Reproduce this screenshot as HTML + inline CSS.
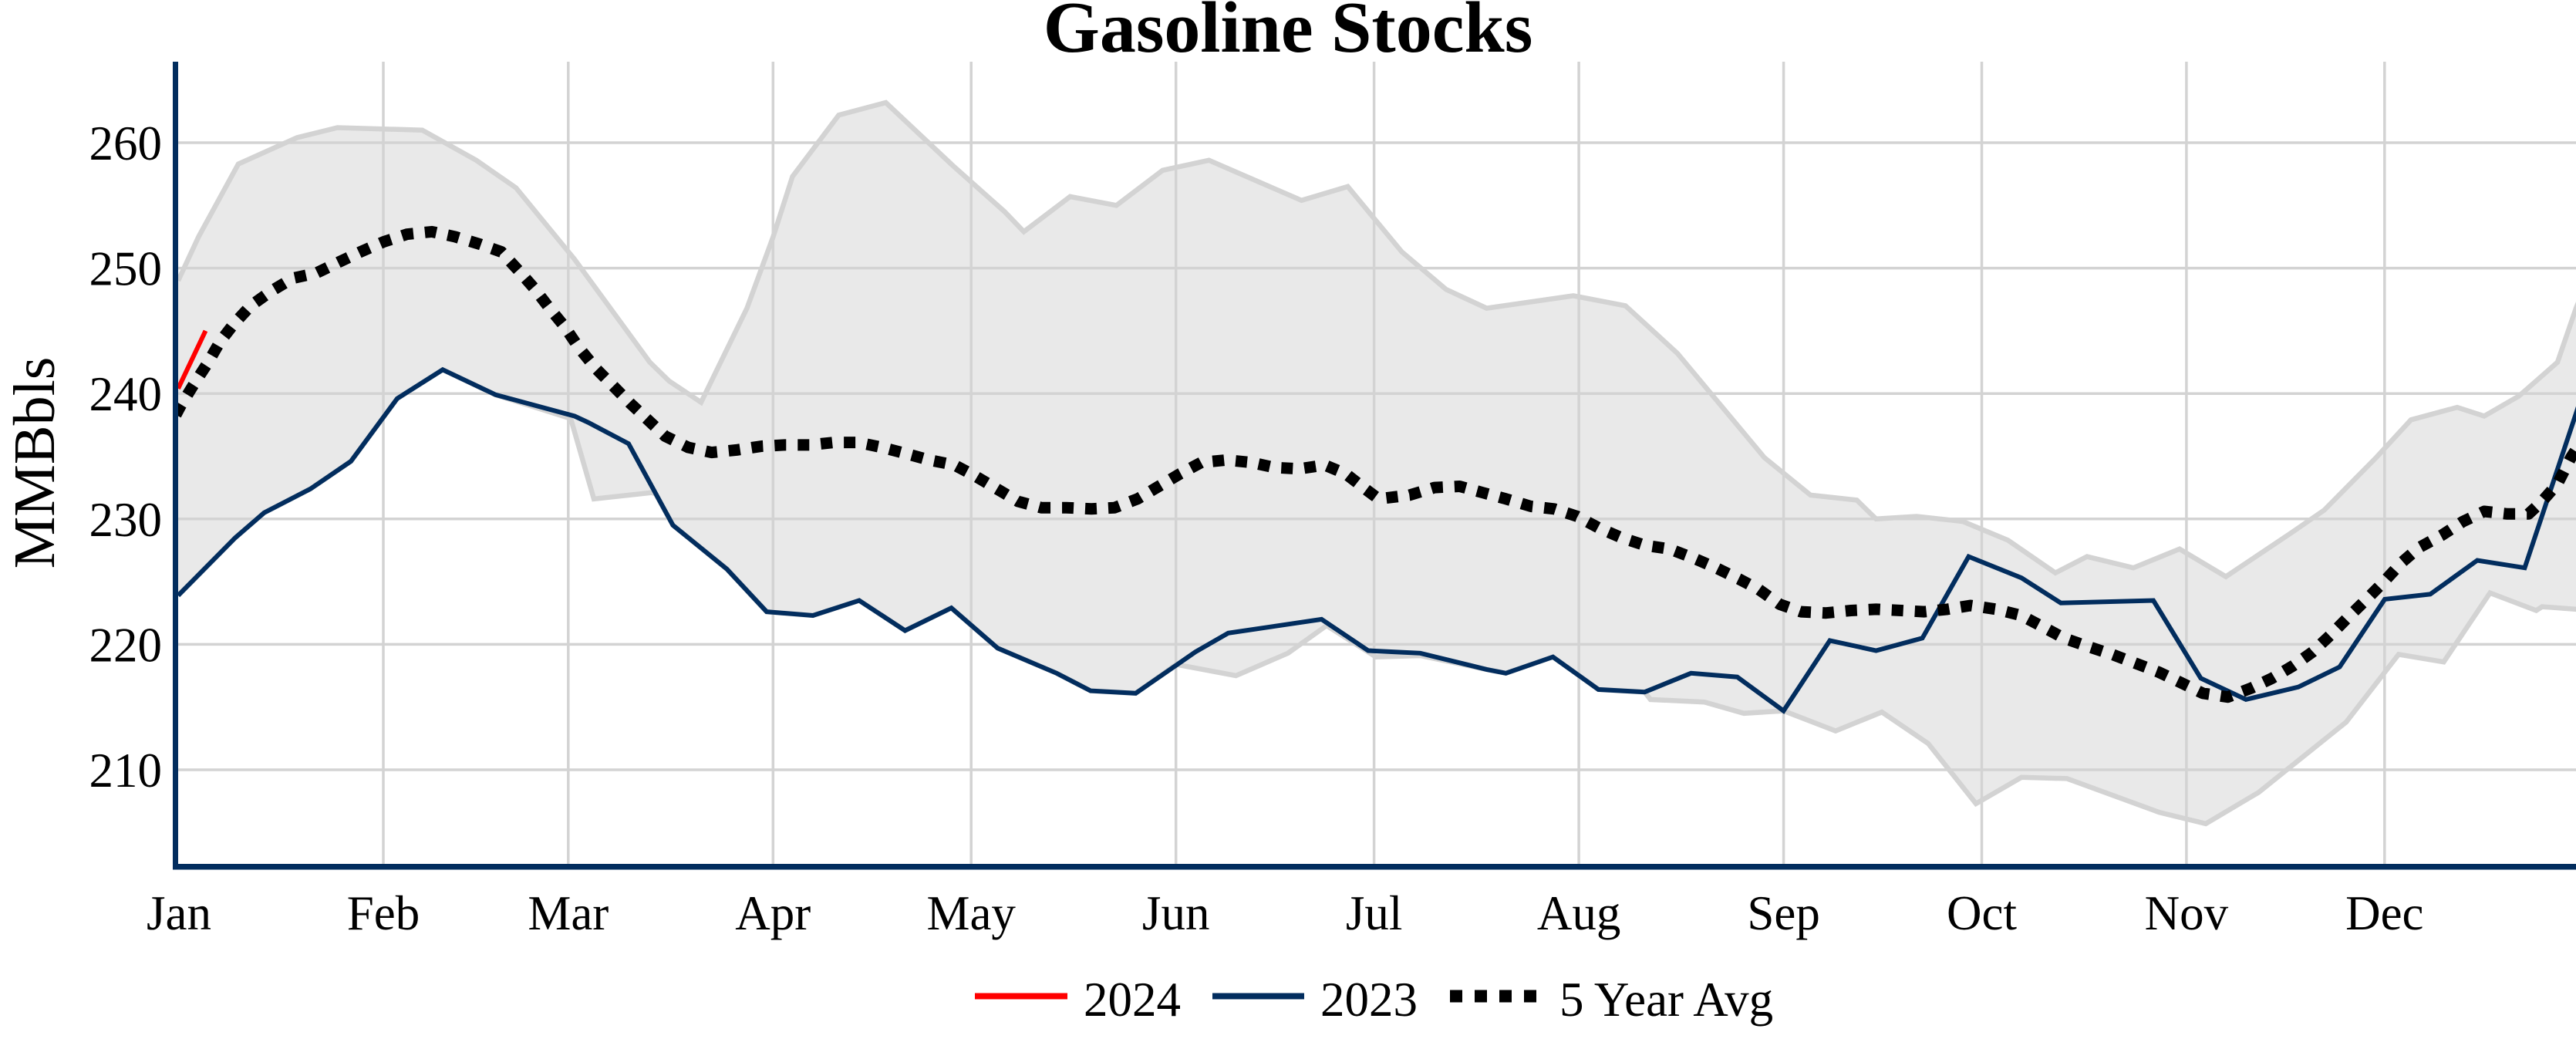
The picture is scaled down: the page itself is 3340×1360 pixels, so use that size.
<!DOCTYPE html>
<html>
<head>
<meta charset="utf-8">
<style>
html,body{margin:0;padding:0;background:#ffffff;}
svg{display:block;}
text{font-family:"Liberation Serif","Times New Roman",serif;fill:#000;}
</style>
</head>
<body>
<svg xmlns="http://www.w3.org/2000/svg" width="3340" height="1360" viewBox="0 0 3340 1360">
<rect x="0" y="0" width="3340" height="1360" fill="#ffffff"/>
<defs>
<clipPath id="plot"><rect x="229" y="80" width="3111" height="1042"/></clipPath>
</defs>

<!-- Title -->
<text x="1670" y="67" font-size="94" font-weight="bold" text-anchor="middle">Gasoline Stocks</text>

<!-- gridlines -->
<g stroke="#d3d3d3" stroke-width="3.5" fill="none">
<line x1="229" y1="185" x2="3340" y2="185"/>
<line x1="229" y1="347.6" x2="3340" y2="347.6"/>
<line x1="229" y1="510.2" x2="3340" y2="510.2"/>
<line x1="229" y1="672.8" x2="3340" y2="672.8"/>
<line x1="229" y1="835.4" x2="3340" y2="835.4"/>
<line x1="229" y1="998" x2="3340" y2="998"/>
<line x1="497" y1="80" x2="497" y2="1122"/>
<line x1="736.8" y1="80" x2="736.8" y2="1122"/>
<line x1="1002.3" y1="80" x2="1002.3" y2="1122"/>
<line x1="1259.2" y1="80" x2="1259.2" y2="1122"/>
<line x1="1524.7" y1="80" x2="1524.7" y2="1122"/>
<line x1="1781.6" y1="80" x2="1781.6" y2="1122"/>
<line x1="2047.1" y1="80" x2="2047.1" y2="1122"/>
<line x1="2312.6" y1="80" x2="2312.6" y2="1122"/>
<line x1="2569.5" y1="80" x2="2569.5" y2="1122"/>
<line x1="2834.9" y1="80" x2="2834.9" y2="1122"/>
<line x1="3091.8" y1="80" x2="3091.8" y2="1122"/>
</g>

<g clip-path="url(#plot)">
<!-- band fill -->
<polygon fill="rgba(211,211,211,0.5)" stroke="none" points="
231,363.9 257.5,306.9 309,212.6 385,178.5 437.5,165.5 547.5,168.7 617.5,207.8 669,243.5 745,336.2 842.5,469.6 867.5,493.9 909,521.6 968.5,399.6 1002.5,306.9 1027.5,228.9 1087.5,149.2 1148.5,133.0 1235,214.3 1302.5,274.4 1327.5,300.4 1387.5,254.9 1447.5,266.3 1507.5,220.8 1567.5,207.8 1687.5,259.8 1747.5,241.9 1782.5,284.2 1817.5,326.5 1875,375.2 1927.5,399.6 2040,383.4 2107.5,396.4 2175,458.2 2287.5,593.1 2347.5,641.9 2407.5,648.4 2432.5,672.8 2485,669.5 2545,676.1 2603.5,700.4 2665,742.7 2706,721.6 2766,736.2 2826,711.8 2886,747.6 2971,690.7 3013.5,661.4 3081,593.1 3126,544.3 3186,528.1 3221,539.5 3266,513.5 3316,469.6 3340,399.6 3352,370
3360,790 3340,789.9 3296,786.6 3288.5,791.5 3228.5,768.7 3168.5,858.2 3110,848.4 3042,936.2 2928.5,1027.3 2860,1067.9 2800,1053.3 2680,1009.4 2621,1007.8 2562,1041.9 2500,963.9 2440,923.2 2380,947.6 2312.5,921.6 2261,924.8 2210,910.2 2140,906.9 2132.5,897.2 2072.5,893.9 2013.5,851.7 1952.5,872.8 1927.5,867.9 1841.5,850.0 1784,851.7 1720,811.0 1670,846.8 1602.5,876.0 1525,861.4 1472.5,898.8 1414,895.6 1370,872.8 1293.5,840.3 1233.5,788.2 1173.5,817.5 1114,778.5 1054,798.0 994,793.1 942.5,737.8 872.5,680.9 850,640.3 845,638.7 770,646.8 740,542.7 642.5,511.8 574,479.3 515,516.7 455,598.0 402.5,633.8 342.5,664.7 305,697.2 231,772.0"/>

<!-- band upper line -->
<polyline fill="none" stroke="#d3d3d3" stroke-width="6.5" stroke-linejoin="miter" points="231,363.9 257.5,306.9 309,212.6 385,178.5 437.5,165.5 547.5,168.7 617.5,207.8 669,243.5 745,336.2 842.5,469.6 867.5,493.9 909,521.6 968.5,399.6 1002.5,306.9 1027.5,228.9 1087.5,149.2 1148.5,133.0 1235,214.3 1302.5,274.4 1327.5,300.4 1387.5,254.9 1447.5,266.3 1507.5,220.8 1567.5,207.8 1687.5,259.8 1747.5,241.9 1782.5,284.2 1817.5,326.5 1875,375.2 1927.5,399.6 2040,383.4 2107.5,396.4 2175,458.2 2287.5,593.1 2347.5,641.9 2407.5,648.4 2432.5,672.8 2485,669.5 2545,676.1 2603.5,700.4 2665,742.7 2706,721.6 2766,736.2 2826,711.8 2886,747.6 2971,690.7 3013.5,661.4 3081,593.1 3126,544.3 3186,528.1 3221,539.5 3266,513.5 3316,469.6 3340,399.6 3352,370"/>

<!-- band lower line -->
<polyline fill="none" stroke="#d3d3d3" stroke-width="6.5" points="231,772.0 305,697.2 342.5,664.7 402.5,633.8 455,598.0 515,516.7 574,479.3 642.5,511.8 740,542.7 770,646.8 845,638.7 850,640.3 872.5,680.9 942.5,737.8 994,793.1 1054,798.0 1114,778.5 1173.5,817.5 1233.5,788.2 1293.5,840.3 1370,872.8 1414,895.6 1472.5,898.8 1525,861.4 1602.5,876.0 1670,846.8 1720,811.0 1784,851.7 1841.5,850.0 1927.5,867.9 1952.5,872.8 2013.5,851.7 2072.5,893.9 2132.5,897.2 2140,906.9 2210,910.2 2261,924.8 2312.5,921.6 2380,947.6 2440,923.2 2500,963.9 2562,1041.9 2621,1007.8 2680,1009.4 2800,1053.3 2860,1067.9 2928.5,1027.3 3042,936.2 3110,848.4 3168.5,858.2 3228.5,768.7 3288.5,791.5 3296,786.6 3340,789.9 3360,790"/>

<!-- 2024 -->
<polyline fill="none" stroke="#ff0000" stroke-width="6" points="231,503.7 266.5,428.9"/>

<!-- 2023 -->
<polyline fill="none" stroke="#022d5e" stroke-width="6" stroke-linejoin="miter" points="231,772.0 305,697.2 342.5,664.7 402.5,633.8 455,598.0 515,516.7 574,479.3 642.5,511.8 745,539.5 762.5,547.6 815,575.2 872.5,680.9 942.5,737.8 994,793.1 1054,798.0 1114,778.5 1173.5,817.5 1233.5,788.2 1293.5,840.3 1370,872.8 1414,895.6 1472.5,898.8 1550,845.2 1592.5,820.8 1713.5,802.9 1774,843.5 1841.5,846.8 1927.5,867.9 1952.5,872.8 2013.5,851.7 2072.5,893.9 2132.5,897.2 2192.5,872.8 2252.5,877.7 2312.5,921.6 2372.5,830.5 2432.5,843.5 2492.5,827.3 2552.5,721.6 2621,749.2 2672,781.7 2792,778.5 2853.5,879.3 2912,906.9 2980,890.7 3033.5,864.7 3092,776.9 3151,770.4 3212,726.5 3273.5,736.2 3340,536.2 3350,506"/>

<!-- 5 year avg -->
<polyline fill="none" stroke="#000000" stroke-width="15" stroke-dasharray="15 15" stroke-linecap="butt" stroke-linejoin="round" points="228,537.8 234,526.5 250,500.4 270,469.5 285,443.5 302.5,420.8 325,396.4 352.5,376.9 380,360.6 410,354.1 440,339.5 467.5,326.5 497.5,313.5 527.5,303.7 560,300.4 590,306.9 622.5,316.7 650,326.5 672.5,350.9 692.5,373.6 712.5,399.6 732.5,424.0 750,450.0 772.5,477.7 795,500.4 817.5,523.2 840,544.3 862.5,565.5 892.5,580.1 922.5,586.6 955,583.4 987.5,578.5 1017.5,576.9 1050,576.9 1081,573.6 1112.5,573.6 1144,580.1 1175,588.2 1205,596.4 1237.5,602.9 1265,617.5 1292.5,633.8 1320,650.0 1350,658.2 1382.5,658.2 1415,659.8 1445,658.2 1475,646.8 1502.5,630.5 1530,614.3 1557.5,599.6 1590,596.4 1622.5,599.6 1652.5,606.1 1685,607.8 1717.5,602.9 1745,614.3 1770,633.8 1787.5,646.8 1827.5,641.9 1860,632.1 1892.5,630.5 1922.5,638.7 1952.5,646.8 1985,656.5 2015,659.8 2045,669.5 2072.5,684.2 2102.5,697.2 2132.5,706.9 2165,711.8 2195,723.2 2225,736.2 2255,750.8 2280,763.9 2307.5,783.4 2335,793.1 2367.5,794.7 2400,791.5 2432.5,789.9 2465,791.5 2495,793.1 2525,789.9 2555,785.0 2588.5,789.9 2621,798.0 2648.5,812.6 2676,827.3 2708.5,838.6 2738.5,848.4 2768.5,859.8 2798.5,871.2 2826,884.2 2856,898.8 2888.5,903.7 2918.5,892.3 2946,879.3 2973.5,863.0 2998.5,845.2 3021,824.0 3043.5,801.3 3068.5,776.9 3091,754.1 3113.5,729.7 3136,710.2 3166,693.9 3193.5,676.1 3221,663.0 3251,666.3 3278.5,666.3 3296,650.0 3316,627.3 3333.5,593.1 3345,575.2"/>
</g>

<!-- axes -->
<rect x="224" y="80" width="7" height="1047.5" fill="#022d5e"/>
<rect x="224" y="1120" width="3116" height="7.5" fill="#022d5e"/>

<!-- y tick labels -->
<g font-size="63" text-anchor="end">
<text x="210" y="207">260</text>
<text x="210" y="369.6">250</text>
<text x="210" y="532.2">240</text>
<text x="210" y="694.8">230</text>
<text x="210" y="857.4">220</text>
<text x="210" y="1020">210</text>
</g>

<!-- y axis title -->
<text x="0" y="0" font-size="76" text-anchor="middle" transform="translate(70,600) rotate(-90)">MMBbls</text>

<!-- x tick labels -->
<g font-size="63" text-anchor="middle">
<text x="232" y="1205">Jan</text>
<text x="497" y="1205">Feb</text>
<text x="736.8" y="1205">Mar</text>
<text x="1002.3" y="1205">Apr</text>
<text x="1259.2" y="1205">May</text>
<text x="1524.7" y="1205">Jun</text>
<text x="1781.6" y="1205">Jul</text>
<text x="2047.1" y="1205">Aug</text>
<text x="2312.6" y="1205">Sep</text>
<text x="2569.5" y="1205">Oct</text>
<text x="2834.9" y="1205">Nov</text>
<text x="3091.8" y="1205">Dec</text>
</g>

<!-- legend -->
<line x1="1264" y1="1291.5" x2="1384" y2="1291.5" stroke="#ff0000" stroke-width="8"/>
<text x="1405" y="1317" font-size="63">2024</text>
<line x1="1572" y1="1291.5" x2="1691" y2="1291.5" stroke="#022d5e" stroke-width="8"/>
<text x="1712" y="1317" font-size="63">2023</text>
<line x1="1880" y1="1291.5" x2="1992" y2="1291.5" stroke="#000000" stroke-width="16" stroke-dasharray="16 16"/>
<text x="2022" y="1317" font-size="63">5 Year Avg</text>
</svg>
</body>
</html>
